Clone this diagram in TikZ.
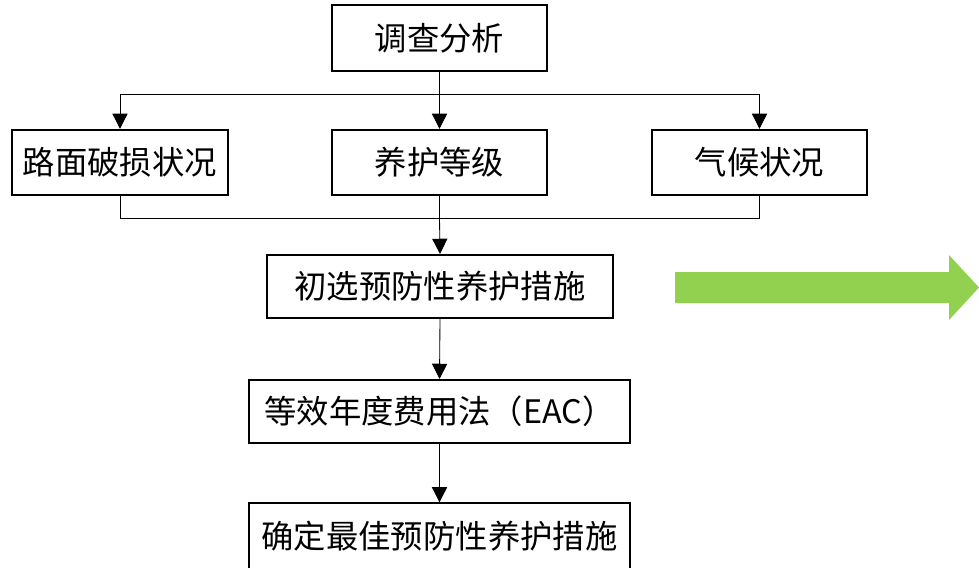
\documentclass[tikz,border=0pt]{standalone}
\usepackage{fontspec}
\newfontfamily\cjk{Noto Sans CJK SC}
\usepackage{tikz}
\usetikzlibrary{arrows.meta,positioning}
\definecolor{flowgreen}{HTML}{92D050}

\begin{document}
\begin{tikzpicture}[x=0.025cm,y=-0.025cm,
    box/.style={draw,line width=1.5pt,inner sep=0pt,minimum height=1.63cm,
      font=\cjk\fontsize{23}{26}\selectfont},
    link/.style={line width=0.6pt},
    flow/.style={link,-{Triangle[length=0.38cm,width=0.38cm]}}]
  \useasboundingbox (0,0) rectangle (979,567);
  \clip (0,0) rectangle (979,567);

  \node[box,minimum width=5.375cm]	(survey)  at (439.5,38)    {调查分析};
  \node[box,minimum width=5.4cm]	(damage)  at (120,162.5)   {路面破损状况};
  \node[box,minimum width=5.375cm]	(grade)   at (439.5,162.5) {养护等级};
  \node[box,minimum width=5.375cm]	(climate) at (759.5,162.5) {气候状况};
  \node[box,minimum width=8.65cm,minimum height=1.575cm]	(select) at (440,286.5) {初选预防性养护措施};
  \node[box,minimum width=9.525cm,minimum height=1.575cm]	(eac)    at (439.5,411.5) {等效年度费用法（EAC）};
  \node[box,minimum width=9.525cm]	(best)    at (439.5,536)   {确定最佳预防性养护措施};

  \coordinate (split) at (439.5,94);
  \coordinate (merge) at (439.5,218);

  % fan out
  \draw[link] (survey.south) -- (split);
  \draw[flow] (split) -| (damage.north);
  \draw[flow] (split) -- (grade.north);
  \draw[flow] (split) -| (climate.north);

  % gather
  \draw[link] (damage.south) |- (merge);
  \draw[link] (climate.south) |- (merge);
  \draw[link] (grade.south) -- (merge);
  \draw[flow] (merge) -- (select.north);

  \draw[flow] (select.south) -- (eac.north);
  \draw[flow] (eac.south) -- (best.north);

  % big arrow
  \fill[flowgreen] (675,272) -- (949,272) -- (949,255) -- (979,287.5)
    -- (949,320) -- (949,303) -- (675,303) -- cycle;
\end{tikzpicture}
\end{document}
